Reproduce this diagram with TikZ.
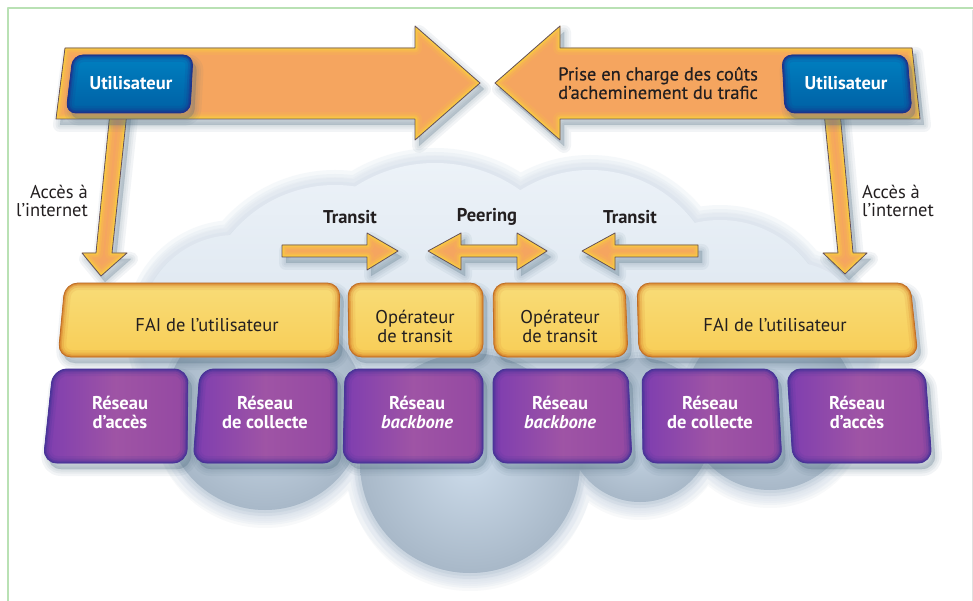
\documentclass[tikz,border=0pt]{standalone}
\usepackage{fontspec}
\setmainfont{PT Sans}
\newfontfamily\medfont{PT Sans}[FakeBold=0.5]

\definecolor{framegreen}{RGB}{185,225,180}
\definecolor{ink}{RGB}{35,31,32}
\definecolor{arrowfill}{RGB}{245,165,95}
\definecolor{arrowrim}{RGB}{252,212,60}
\definecolor{arrowedge}{RGB}{100,80,92}
\definecolor{userblue}{RGB}{0,106,182}
\definecolor{userdark}{RGB}{30,50,140}
\definecolor{ispfill}{RGB}{247,214,96}
\definecolor{isprim}{RGB}{212,125,42}
\definecolor{ispedge}{RGB}{190,110,40}
\definecolor{netfill}{RGB}{148,72,162}
\definecolor{netrim}{RGB}{72,52,152}
\definecolor{cloudtop}{RGB}{236,242,248}
\definecolor{cloudbot}{RGB}{200,214,228}
\definecolor{cloudedge}{RGB}{212,224,236}
\definecolor{bulbin}{RGB}{204,219,234}
\definecolor{bulbout}{RGB}{168,184,200}
\definecolor{shadowcol}{RGB}{80,110,130}

% soft drop shadow of a closed path
\newcommand\softshadow[1]{%
  \begin{scope}[shift={(4,6)}]
    \foreach \w in {14,9,5,1}{\filldraw[shadowcol, opacity=0.07, line width=\w pt] #1;}
  \end{scope}}

% filled shape with a soft inner rim and a thin outline
% #1 path, #2 fill options, #3 rim colour, #4 outline colour
\newcommand\rimmed[4]{%
  \path[#2] #1;
  \begin{scope}
    \clip #1;
    \foreach \w/\o in {14/0.12,9/0.22,5/0.4,2.5/0.65}{\draw[#3, opacity=\o, line width=\w pt] #1;}
  \end{scope}
  \draw[#4, line width=0.8pt] #1;}

\newcommand\arrowshape[1]{\softshadow{#1}\rimmed{#1}{fill=arrowfill}{arrowrim}{arrowedge}}
\newcommand\ispshape[1]{\softshadow{#1}\rimmed{#1}{top color=ispfill!85!white, bottom color=ispfill!90!orange}{isprim}{ispedge}}
\newcommand\netshape[1]{\softshadow{#1}\rimmed{#1}{left color=netfill!85!blue, right color=netfill, middle color=netfill!90!pink}{netrim}{netrim}}
\newcommand\usershape[1]{\softshadow{#1}\rimmed{#1}{top color=userblue!85!cyan, bottom color=userblue!90!black}{userdark}{userdark}}

\tikzset{
  txt/.style={font=\fontsize{18.5}{19}\selectfont, text=ink, align=center, inner sep=0pt},
  boldtxt/.style={txt, font=\fontsize{18.5}{19}\selectfont\bfseries},
  whitetxt/.style={boldtxt, text=white},
  notetxt/.style={txt, font=\fontsize{18.5}{18.5}\selectfont},
}

\newcommand\cloudcircles{(235,330) circle (95) (335,320) circle (135) (435,310) circle (147)
  (590,300) circle (130) (720,330) circle (110) (790,340) circle (78)
  (470,463) circle (110) (265,410) circle (100) (640,430) circle (72) (770,405) circle (85)}

\begin{document}
\begin{tikzpicture}[x=1pt,y=-1pt, line join=round]
\useasboundingbox (0,0) rectangle (973,601);
\fill[white] (0,0) rectangle (973,601);

% page frame
\draw[framegreen, line width=2pt] (973,8) -- (8,8) -- (8,601);
\draw[black!12, line width=0.6pt] (972,10) -- (972,601);

% the cloud: soft edge, body, then the lower bulbs
\begin{scope}[shift={(0,5)}]
  \foreach \w in {26,16,8}{\draw[shadowcol, opacity=0.04, line width=\w pt] \cloudcircles;}
\end{scope}
\foreach \w in {30,22,14,7}{\draw[cloudedge, opacity=0.22, line width=\w pt] \cloudcircles;}
\shade[top color=cloudtop, bottom color=cloudbot] \cloudcircles;
\foreach \c/\r in {{(265,410)}/100,{(770,405)}/85,{(640,430)}/72,{(470,463)}/110}{
  \foreach \w in {12,6}{\draw[bulbout, opacity=0.18, line width=\w pt] \c circle (\r);}
  \shade[inner color=bulbin, outer color=bulbout] \c circle (\r);
}

% access arrows (their tails pass under the top arrows)
\arrowshape{(110,112) -- (127,112) -- (112,253) -- (127,253) -- (101,276) -- (82,253) -- (96,253) -- cycle}
\arrowshape{(824,112) -- (840,112) -- (853,253) -- (867,253) -- (845,274) -- (823,253) -- (838,253) -- cycle}

% big arrows
\arrowshape{(65,48) -- (415,48) -- (415,26) -- (480,83) -- (415,140) -- (415,119) -- (56,119) -- cycle}
\arrowshape{(912,48) -- (560,48) -- (560,26) -- (495,83) -- (560,140) -- (560,119) -- (920,119) -- cycle}

% user boxes
\usershape{[rounded corners=10pt] (73,55) -- (193,55) -- (190,113) -- (66,113) -- cycle}
\usershape{[rounded corners=10pt] (782,55) -- (907,55) -- (912,113) -- (785,113) -- cycle}

% transit / peering arrows
\arrowshape{(282,245) -- (367,245) -- (367,233) -- (398,251) -- (367,270) -- (367,257) -- (282,257) -- cycle}
\arrowshape{(428,251) -- (461,233) -- (461,245) -- (517,245) -- (517,233) -- (547,251) -- (517,270) -- (517,257) -- (461,257) -- (461,270) -- cycle}
\arrowshape{(582,251) -- (615,233) -- (615,245) -- (698,245) -- (698,257) -- (615,257) -- (615,270) -- cycle}

% operator row
\ispshape{[rounded corners=13pt] (65,283) -- (340,283) -- (338,357) -- (58,357) -- cycle}
\ispshape{[rounded corners=13pt] (348,283) -- (483,283) -- (483,357) -- (349,357) -- cycle}
\ispshape{[rounded corners=13pt] (493,283) -- (625,283) -- (628,357) -- (494,357) -- cycle}
\ispshape{[rounded corners=13pt] (637,283) -- (910,283) -- (918,357) -- (639,357) -- cycle}

% network row
\netshape{[rounded corners=14pt] (53,369) -- (188,369) -- (187,463) -- (43,463) -- cycle}
\netshape{[rounded corners=14pt] (200,369) -- (337,369) -- (337,463) -- (193,463) -- cycle}
\netshape{[rounded corners=14pt] (345,369) -- (483,369) -- (483,463) -- (343,463) -- cycle}
\netshape{[rounded corners=14pt] (493,369) -- (628,369) -- (632,463) -- (493,463) -- cycle}
\netshape{[rounded corners=14pt] (642,369) -- (777,369) -- (782,463) -- (643,463) -- cycle}
\netshape{[rounded corners=14pt] (787,369) -- (925,369) -- (932,463) -- (793,463) -- cycle}

% texts
\node[whitetxt] (userL) at (131,83) {Utilisateur};
\node[whitetxt] (userR) at (846,83) {Utilisateur};
\node[txt, align=left, anchor=west, font=\fontsize{18.5}{18.5}\selectfont\medfont] (cost) at (558,83) {Prise en charge des coûts\\d’acheminement du trafic};

\node[notetxt, align=right, anchor=east] (accL) at (88,201) {Accès à\\l’internet};
\node[notetxt, align=left, anchor=west] (accR) at (862,201) {Accès à\\l’internet};

\node[boldtxt] (transitL) at (350,217) {Transit};
\node[boldtxt] (peering) at (487,217) {Peering};
\node[boldtxt] (transitR) at (630,217) {Transit};

\node[txt] (ispL) at (207,325) {FAI de l’utilisateur};
\node[txt] (opL) at (415,326) {Opérateur\\de transit};
\node[txt] (opR) at (560,326) {Opérateur\\de transit};
\node[txt] (ispR) at (775,325) {FAI de l’utilisateur};

\node[whitetxt] (accessL) at (120,412) {Réseau\\d’accès};
\node[whitetxt] (collectL) at (265,412) {Réseau\\de collecte};
\node[whitetxt] (backboneL) at (417,412) {Réseau\\{\itshape backbone}};
\node[whitetxt] (backboneR) at (560,412) {Réseau\\{\itshape backbone}};
\node[whitetxt] (collectR) at (710,412) {Réseau\\de collecte};
\node[whitetxt] (accessR) at (857,412) {Réseau\\d’accès};
\end{tikzpicture}
\end{document}
